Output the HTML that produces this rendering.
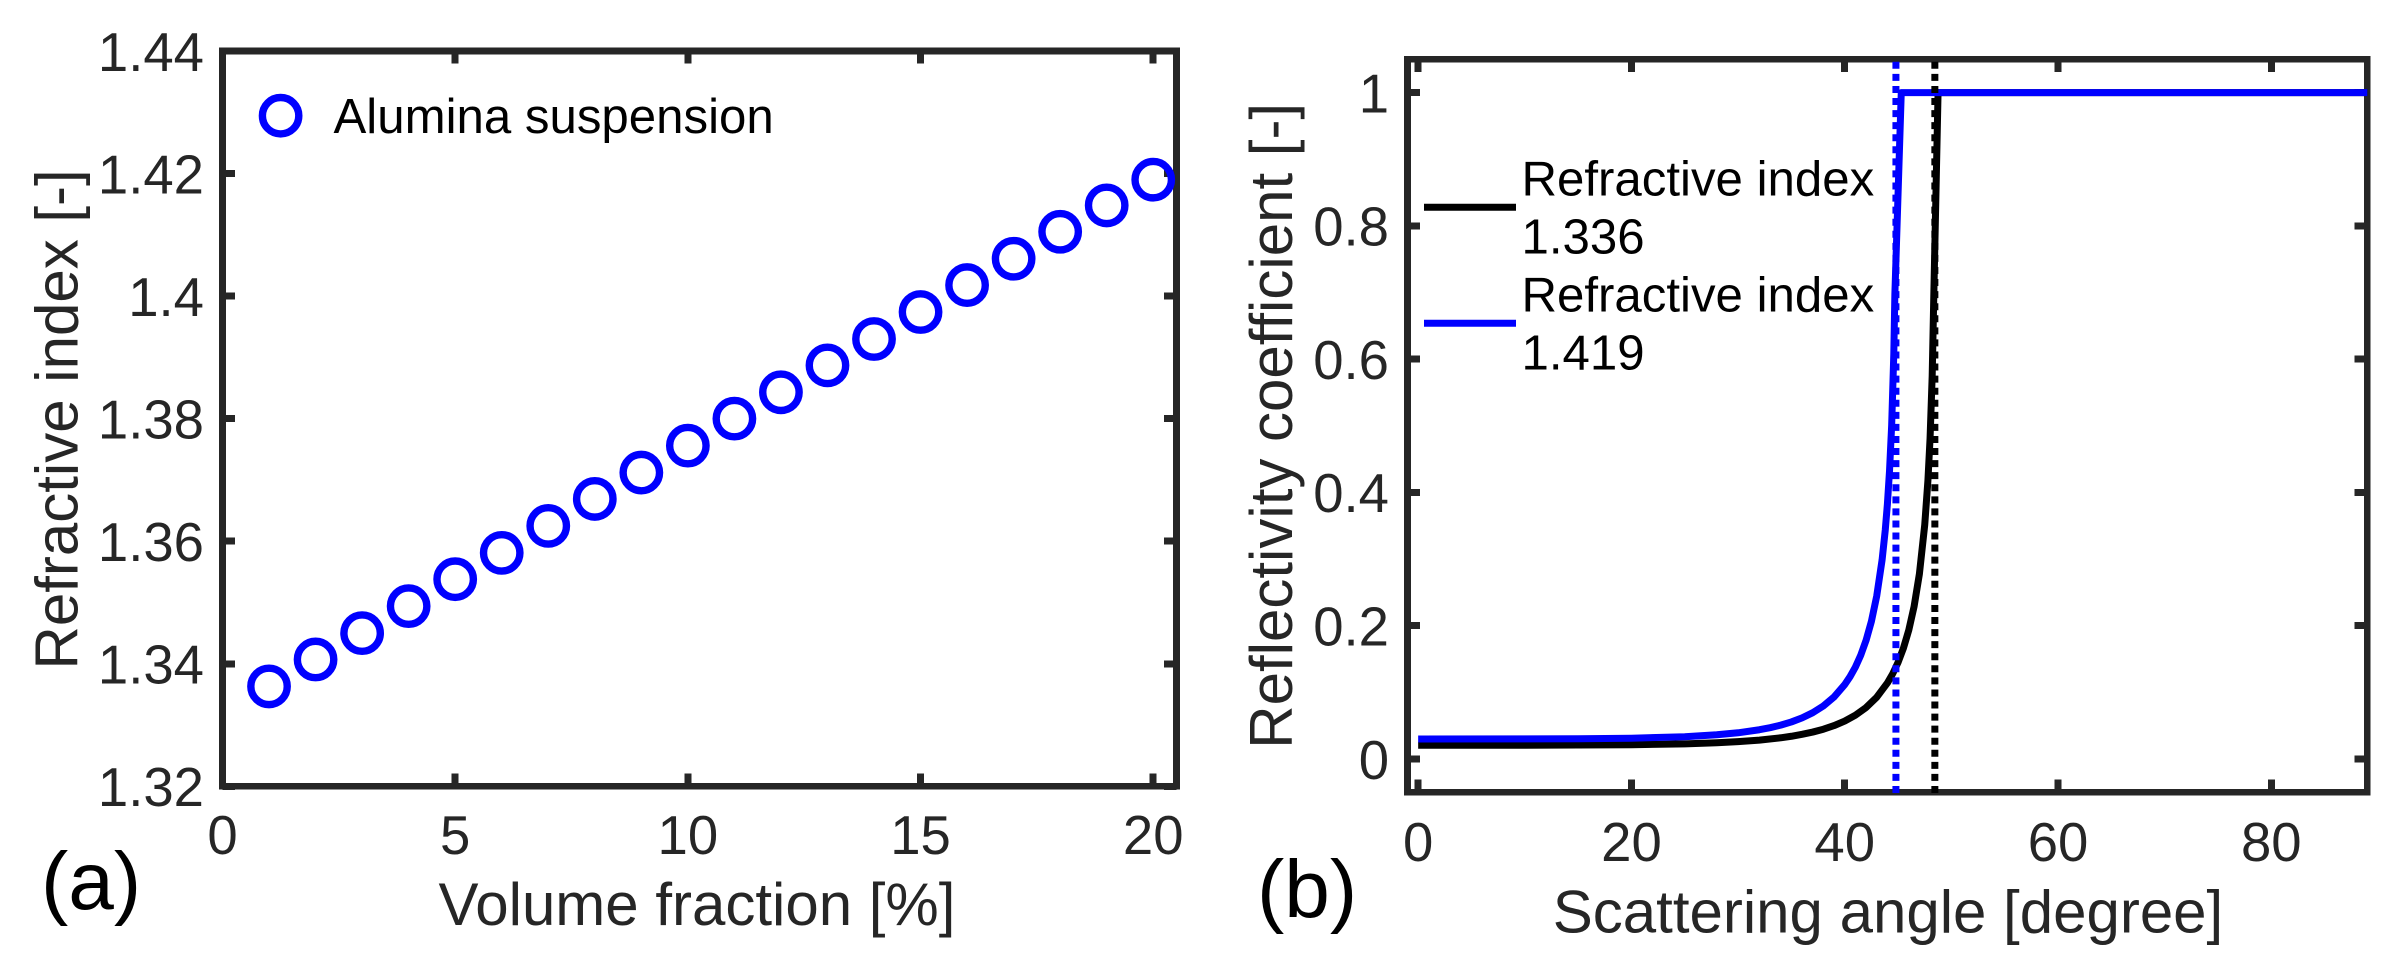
<!DOCTYPE html>
<html lang="en">
<head>
<meta charset="utf-8">
<title>Refractive index and reflectivity charts</title>
<style>
  html, body { margin: 0; padding: 0; background: #fff; }
  svg { display: block; }
  text { font-family: "Liberation Sans", Arial, sans-serif; }
  .tick-label { font-size: 54.5px; fill: #262626; }
  .axis-title { font-size: 60px; fill: #262626; text-anchor: middle; }
  .legend-text { font-size: 49.2px; fill: #000; }
  .panel-label { font-size: 82px; fill: #000; }
</style>
</head>
<body>
<svg id="figure" xmlns="http://www.w3.org/2000/svg" width="2397" height="968" viewBox="0 0 2397 968">
  <rect x="0" y="0" width="2397" height="968" fill="#fff"/>

  <g id="chart-a"></g>
  <g id="chart-b"></g>

  <text class="axis-title" transform="translate(77.5 419.4) rotate(-90)">Refractive index [-]</text>
  <text class="axis-title" x="697" y="925">Volume fraction [%]</text>
  <text class="panel-label" x="41" y="909">(a)</text>

  <g>
    <circle cx="280.6" cy="115.7" r="18.2" fill="none" stroke="#0000ff" stroke-width="7.4"/>
    <text class="legend-text" x="333.5" y="133">Alumina suspension</text>
  </g>

  <text class="axis-title" transform="translate(1292 425.8) rotate(-90)">Reflectivity coefficient [-]</text>
  <text class="axis-title" x="1888" y="932.3">Scattering angle [degree]</text>
  <text class="panel-label" x="1257" y="917">(b)</text>

  <g>
    <line x1="1424" x2="1516" y1="207.3" y2="207.3" stroke="#000" stroke-width="7"/>
    <text class="legend-text" x="1521.5" y="195.7">Refractive index</text>
    <text class="legend-text" x="1521.5" y="253.3">1.336</text>
    <line x1="1424" x2="1516" y1="323.3" y2="323.3" stroke="#0000ff" stroke-width="7"/>
    <text class="legend-text" x="1521.5" y="311.7">Refractive index</text>
    <text class="legend-text" x="1521.5" y="369.3">1.419</text>
  </g>
</svg>

<script>
// Chart (a) data
const volumeFractions = [1,2,3,4,5,6,7,8,9,10,11,12,13,14,15,16,17,18,19,20];
const refractiveIndices = [1.3363,1.3407,1.3450,1.3494,1.3538,1.3581,1.3625,1.3669,1.3712,1.3756,1.3800,1.3843,1.3887,1.3930,1.3974,1.4018,1.4061,1.4105,1.4148,1.4190];
const chartAXTicks = [0,5,10,15,20];
const chartAXTickLabels = ['0','5','10','15','20'];
const chartAYTicks = [1.32,1.34,1.36,1.38,1.40,1.42,1.44];
const chartAYTickLabels = ['1.32','1.34','1.36','1.38','1.4','1.42','1.44'];

// Chart (b) data
const anglesLow = [0,10,15,20,25,28,30,32,34,35,36,37,38,39,40,41,42,43,44,44.5,45,45.5,46,46.5,47,47.5,47.8,48,48.2,48.35,48.75,89];
const reflectivityLow = [0.0207,0.0207,0.0209,0.0214,0.0227,0.0243,0.0260,0.0283,0.0318,0.0341,0.0370,0.0404,0.0447,0.0501,0.0569,0.0657,0.0772,0.0927,0.1141,0.1280,0.1450,0.1662,0.1931,0.2286,0.2776,0.3513,0.4179,0.4811,0.5751,0.6944,1,1];
const anglesHigh = [0,10,15,20,25,28,30,32,33,34,35,36,37,38,39,40,40.5,41,41.5,42,42.5,43,43.5,43.8,44,44.2,44.4,44.6,44.7,45.3,89];
const reflectivityHigh = [0.0300,0.0301,0.0303,0.0312,0.0334,0.0363,0.0393,0.0439,0.0470,0.0508,0.0556,0.0617,0.0695,0.0796,0.0931,0.1117,0.1236,0.1380,0.1558,0.1780,0.2065,0.2447,0.2985,0.3437,0.3826,0.4326,0.5010,0.6078,0.6973,1,1];
const criticalAngleHigh = 44.8;
const criticalAngleLow = 48.45;
const chartBXTicks = [0,20,40,60,80];
const chartBXTickLabels = ['0','20','40','60','80'];
const chartBYTicks = [0,0.2,0.4,0.6,0.8,1];
const chartBYTickLabels = ['0','0.2','0.4','0.6','0.8','1'];

const SVG_NS = 'http://www.w3.org/2000/svg';
const INK = '#262626';

function linearScale(d0, d1, r0, r1) {
  return function (v) { return r0 + (v - d0) * (r1 - r0) / (d1 - d0); };
}

const xA = linearScale(0, 20.5, 222.5, 1176.5);
const yA = linearScale(1.32, 1.44, 786.3, 51);
const xB = linearScale(-1, 89, 1407.5, 2367.3);
const yB = linearScale(-0.05, 1.05, 792.3, 59.3);

function create(tag, parent, props) {
  const el = document.createElementNS(SVG_NS, tag);
  Object.keys(props).forEach(function (k) { el.setAttribute(k, props[k]); });
  parent.appendChild(el);
  return el;
}

function drawAxes(parent, prefix, xs, ys, xTicks, yTicks, xLabels, yLabels, xLabelY, yLabelX) {
  const left = xs.left, right = xs.right, top = ys.top, bottom = ys.bottom;
  const tickLen = 12.7;

  xTicks.forEach(function (t, i) {
    const x = xs.fn(t);
    const bottomTick = create('line', parent, { x1: x, x2: x, y1: bottom, y2: bottom - tickLen, stroke: INK, 'stroke-width': 7, 'shape-rendering': 'crispEdges' });
    
    
    const topTick = create('line', parent, { x1: x, x2: x, y1: top, y2: top + tickLen, stroke: INK, 'stroke-width': 7, 'shape-rendering': 'crispEdges' });
    
    
    const label = create('text', parent, { x: x, y: xLabelY, 'text-anchor': 'middle', class: 'tick-label' });
    
    
    label.textContent = xLabels[i];
  });

  yTicks.forEach(function (t, i) {
    const y = ys.fn(t);
    const leftTick = create('line', parent, { x1: left, x2: left + tickLen, y1: y, y2: y, stroke: INK, 'stroke-width': 7, 'shape-rendering': 'crispEdges' });
    
    
    const rightTick = create('line', parent, { x1: right, x2: right - tickLen, y1: y, y2: y, stroke: INK, 'stroke-width': 7, 'shape-rendering': 'crispEdges' });
    
    
    const label = create('text', parent, { x: yLabelX, y: y + 19.8, 'text-anchor': 'end', class: 'tick-label' });
    
    
    label.textContent = yLabels[i];
  });

  const frame = create('rect', parent, { x: left, y: top, width: right - left, height: bottom - top, fill: 'none', stroke: INK, 'stroke-width': 6.8, 'shape-rendering': 'crispEdges' });
  
  
}

function buildPath(xValues, yValues, xFn, yFn) {
  return xValues.map(function (v, i) {
    return (i ? 'L' : 'M') + xFn(v).toFixed(2) + ' ' + yFn(yValues[i]).toFixed(2);
  }).join(' ');
}

// Chart (a)
const chartA = document.getElementById('chart-a');
drawAxes(chartA, 'chart-a',
  { fn: xA, left: xA(0), right: xA(20.5) },
  { fn: yA, top: yA(1.44), bottom: yA(1.32) },
  chartAXTicks, chartAYTicks, chartAXTickLabels, chartAYTickLabels, 854, 204);

volumeFractions.forEach(function (v, i) {
  const marker = create('circle', chartA, { cx: xA(v), cy: yA(refractiveIndices[i]), r: 18.2, fill: 'none', stroke: '#0000ff', 'stroke-width': 7.4 });
  
  
});

// Chart (b)
const chartB = document.getElementById('chart-b');
drawAxes(chartB, 'chart-b',
  { fn: xB, left: xB(-1), right: xB(89) },
  { fn: yB, top: yB(1.05), bottom: yB(-0.05) },
  chartBXTicks, chartBYTicks, chartBXTickLabels, chartBYTickLabels, 861, 1389);

const curveLow = create('path', chartB, { d: buildPath(anglesLow, reflectivityLow, xB, yB), fill: 'none', stroke: '#000', 'stroke-width': 7, 'stroke-linejoin': 'round' });



const curveHigh = create('path', chartB, { d: buildPath(anglesHigh, reflectivityHigh, xB, yB), fill: 'none', stroke: '#0000ff', 'stroke-width': 7, 'stroke-linejoin': 'round' });



const criticalHigh = create('line', chartB, { x1: xB(criticalAngleHigh), x2: xB(criticalAngleHigh), y1: yB(-0.05) + 0.7, y2: yB(1.05), stroke: '#0000ff', 'stroke-width': 7, 'stroke-dasharray': '7 5.07' });



const criticalLow = create('line', chartB, { x1: xB(criticalAngleLow), x2: xB(criticalAngleLow), y1: yB(-0.05) + 0.7, y2: yB(1.05), stroke: '#000', 'stroke-width': 7, 'stroke-dasharray': '7 5.07' });


</script>
</body>
</html>
